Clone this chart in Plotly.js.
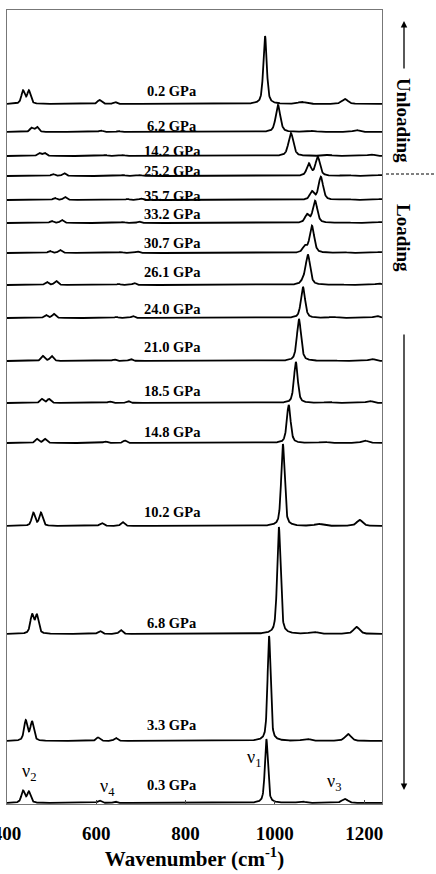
<!DOCTYPE html>
<html><head><meta charset="utf-8">
<script src="https://cdn.plot.ly/plotly-3.0.1.min.js"></script>
<style>body{margin:0;background:#fff}#c{width:436px;height:874px}</style>
</head><body><div id="c"></div>
<script>
// Spectra, bottom to top (offsets are the stacked baselines, arbitrary units)
const pressures = ['0.3','3.3','6.8','10.2','14.8','18.5','21.0','24.0','26.1','30.7','33.2','35.7','25.2','14.2','6.2','0.2'];
const offsets   = [1, 63, 170, 278, 361, 401, 443, 486, 519, 551, 581, 604, 628, 648, 672, 700];
// nu1 main band
const nu1Pos    = [981, 987, 1009, 1018, 1031, 1047, 1054, 1063, 1074, 1083, 1090, 1103, 1096, 1036, 1007, 978];
const nu1Height = [64, 105, 107, 82, 38, 41, 42, 31, 30, 27, 22, 23, 19, 23, 27, 68];
const nu1Width  = [8, 8, 9, 9, 10, 10, 11, 11, 12, 12, 12, 12, 12, 13, 12, 9];
// shoulder next to nu1 (high pressure)
const shPos     = [0, 0, 0, 0, 0, 0, 0, 0, 1063, 1067, 1072, 1083, 1076, 0, 0, 0];
const shHeight  = [0, 0, 0, 0, 0, 0, 0, 0, 3, 6, 8, 8, 12, 0, 0, 0];
// nu2 doublet
const nu2aPos   = [436, 442, 456, 459, 467, 478, 480, 487, 489, 496, 500, 507, 503, 472, 455, 436];
const nu2aH     = [12, 20, 19, 13, 4, 4, 5, 3, 3, 2, 2, 2, 2, 3, 4, 13];
const nu2bPos   = [449, 456, 467, 476, 485, 494, 500, 505, 510, 519, 523, 530, 528, 484, 467, 449];
const nu2bH     = [11, 19, 18, 13, 4, 4, 5, 4, 4, 3, 3, 3, 3, 3, 5, 13];
// nu4 bands
const nu4aPos   = [607, 604, 608, 612, 620, 630, 640, 645, 650, 655, 660, 670, 660, 620, 610, 607];
const nu4aH     = [2.5, 3.5, 3, 3, 1.5, 1.5, 1.5, 1, 1, 1, 1, 1, 1, 1, 1.5, 4];
const nu4bPos   = [642, 644, 655, 659, 664, 671, 677, 682, 685, 692, 696, 700, 698, 660, 650, 642];
const nu4bH     = [1.5, 3, 4, 4, 2.5, 2, 2, 2, 2, 1.5, 1.5, 1.5, 1, 1, 1, 2];
// nu3 bands
const nu3aPos   = [1060, 1071, 1087, 1098, 1110, 1120, 1125, 1130, 1140, 1150, 1155, 1160, 1160, 1120, 1085, 1060];
const nu3aH     = [1.5, 2, 2, 2, 1, 1, 1, 1, 1, 1, 1, 1, 1, 1, 1, 2];
const nu3bPos   = [1157, 1164, 1183, 1190, 1201, 1212, 1217, 1228, 1232, 1235, 1236, 1237, 1236, 1215, 1183, 1157];
const nu3bH     = [4, 7, 7, 6, 2.5, 2, 2, 2, 1.5, 1, 1, 1, 1, 1.5, 2, 5];
const xTicks    = [400, 600, 800, 1000, 1200];
const labelLift = [18, 16, 11, 14, 11, 12, 14, 9, 13, 10, 9, 4, 5, 5, 6, 13];

function band(x, x0, h, w) {
  if (!h) return 0;
  const t = (x - x0) / (w / 2);
  return h * (0.55 / (1 + t * t) + 0.45 * Math.exp(-Math.LN2 * t * t));
}

const xs = [];
for (let x = 400; x <= 1240; x += 0.5) xs.push(x);

const traces = pressures.map((p, i) => {
  const ys = xs.map(x =>
    offsets[i] +
    band(x, nu1Pos[i], nu1Height[i], nu1Width[i]) +
    band(x, shPos[i], shHeight[i], 11) +
    band(x, nu2aPos[i], nu2aH[i], 9) +
    band(x, nu2bPos[i], nu2bH[i], 9) +
    band(x, nu4aPos[i], nu4aH[i], 10) +
    band(x, nu4bPos[i], nu4bH[i], 9) +
    band(x, nu3aPos[i], nu3aH[i], 20) +
    band(x, nu3bPos[i], nu3bH[i], 16));
  return {x: xs, y: ys, type: 'scatter', mode: 'lines',
          line: {color: '#000', width: 1.8}, hoverinfo: 'skip', showlegend: false};
});

const serif = 'Liberation Serif, Times New Roman, serif';
const W = 375, H = 794, L = 7, T = 10;
const px = v => (v - L) / W;
const py = v => (T + H - v) / H;

const annotations = pressures.map((p, i) => ({
  x: 770, y: offsets[i] + labelLift[i], xref: 'x', yref: 'y',
  text: p + ' GPa', showarrow: false,
  font: {family: serif, size: 14.5, color: '#000', weight: 'bold'}
}));
const nuLab = [['ν<sub>2</sub>', 449, 32], ['ν<sub>4</sub>', 624, 17], ['ν<sub>1</sub>', 953, 46], ['ν<sub>3</sub>', 1132, 22]];
nuLab.forEach(n => annotations.push({x: n[1], y: n[2], xref: 'x', yref: 'y', text: n[0],
  showarrow: false, font: {family: serif, size: 18, color: '#000'}}));
annotations.push({x: px(404), y: py(120), xref: 'paper', yref: 'paper', xanchor: 'center', yanchor: 'middle',
  text: 'Unloading', textangle: 90, showarrow: false,
  font: {family: serif, size: 19, color: '#000', weight: 'bold'}});
annotations.push({x: px(404), y: py(238), xref: 'paper', yref: 'paper', xanchor: 'center', yanchor: 'middle',
  text: 'Loading', textangle: 90, showarrow: false,
  font: {family: serif, size: 19, color: '#000', weight: 'bold'}});
annotations.push({x: px(404), y: py(21), xref: 'paper', yref: 'paper', text: '', showarrow: true,
  ax: 0, ay: 49, arrowhead: 2, arrowsize: 1, arrowwidth: 1.3, arrowcolor: '#000'});
annotations.push({x: px(404), y: py(790), xref: 'paper', yref: 'paper', text: '', showarrow: true,
  ax: 0, ay: -457, arrowhead: 2, arrowsize: 1, arrowwidth: 1.3, arrowcolor: '#000'});

const layout = {
  width: 436, height: 874,
  margin: {l: L, r: 436 - L - W, t: T, b: 874 - T - H},
  paper_bgcolor: '#fff', plot_bgcolor: '#fff',
  xaxis: {range: [400, 1240], tickvals: xTicks, ticks: 'inside', ticklen: 4, tickcolor: '#444',
    ticklabelstandoff: 12, ticklabeloverflow: 'allow',
    showline: true, mirror: true, linecolor: '#777', linewidth: 1, showgrid: false, zeroline: false,
    tickfont: {family: serif, size: 19, color: '#000', weight: 'bold'},
    title: {text: 'Wavenumber (cm<sup>-1</sup>)', standoff: 6,
      font: {family: serif, size: 21, color: '#000', weight: 'bold'}}},
  yaxis: {range: [0, H], showticklabels: false, ticks: '', showgrid: false, zeroline: false,
    showline: true, mirror: true, linecolor: '#777', linewidth: 1},
  shapes: [{type: 'line', xref: 'paper', yref: 'paper', x0: px(386), x1: px(436), y0: py(174), y1: py(174),
    line: {color: '#000', width: 1, dash: '3px,2px'}}],
  annotations: annotations
};
Plotly.newPlot('c', traces, layout, {displayModeBar: false, staticPlot: true});
</script></body></html>
